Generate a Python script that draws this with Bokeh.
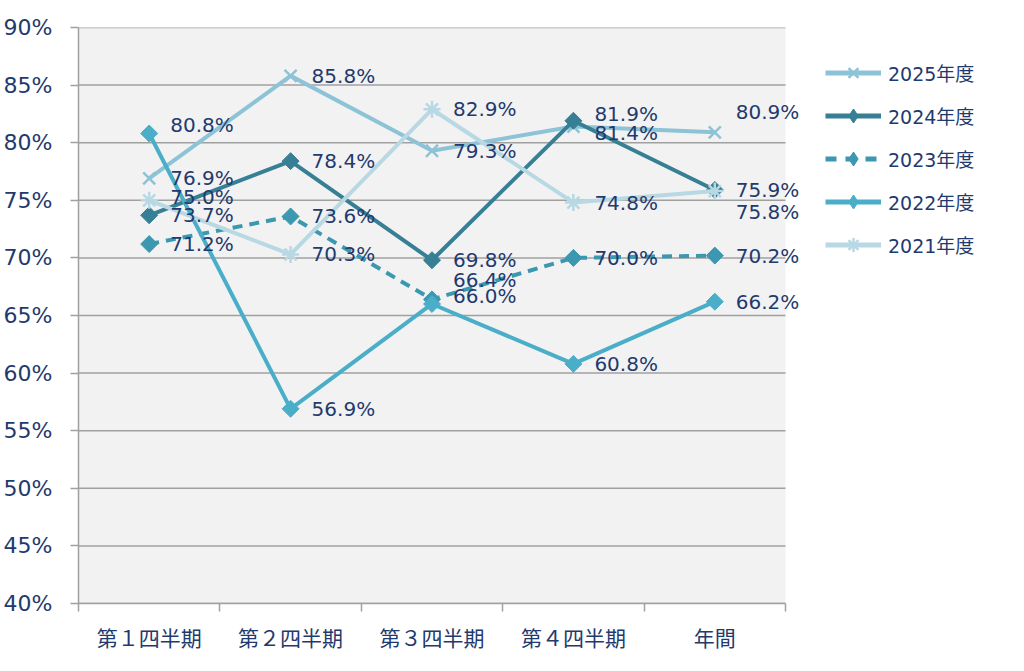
import math
from bokeh.plotting import figure
from bokeh.models import (ColumnDataSource, FixedTicker, PrintfTickFormatter,
                          Legend, LegendItem, BoxAnnotation)
from bokeh.core.properties import value
from bokeh.embed import file_html
from bokeh.resources import INLINE

categories = ["第１四半期", "第２四半期", "第３四半期", "第４四半期", "年間"]
series_names = ["2025年度", "2024年度", "2023年度", "2022年度", "2021年度"]
v2025 = [76.9, 85.8, 79.3, 81.4, 80.9]
v2024 = [73.7, 78.4, 69.8, 81.9, 75.9]
v2023 = [71.2, 73.6, 66.4, 70.0, 70.2]
v2022 = [80.8, 56.9, 66.0, 60.8, 66.2]
v2021 = [75.0, 70.3, 82.9, 74.8, 75.8]
y_ticks = [40, 45, 50, 55, 60, 65, 70, 75, 80, 85, 90]

all_values = [v2025, v2024, v2023, v2022, v2021]

# styles
colors = ["#8dc3d6", "#377f94", "#3b98b0", "#4aaec8", "#b8d8e3"]
markers = ["x", "square", "square", "square", "asterisk"]
legend_markers = ["x", "diamond", "diamond", "diamond", "asterisk"]
angles = [0, math.pi / 4, math.pi / 4, math.pi / 4, 0]
dashes = ["solid", "solid", "10 7", "solid", "solid"]
legend_dashes = ["solid", "solid", "11 9", "solid", "solid"]
msizes = [17, 12, 12, 12, 17]
mlw = [2.5, 1, 1, 1, 2.5]
# label vertical nudges in px (series index, point index) to avoid overlap
nudges = {(3, 0): -8, (2, 2): -19, (3, 2): -8, (1, 3): -7, (0, 3): 6,
          (0, 4): -20, (4, 4): 21, (4, 0): -3}

TEXT = "#1f3a6e"
GRID = "#a0a0a0"
NUMFONT = "'DejaVu Sans', 'Noto Sans CJK JP'"
CJKFONT = "'Noto Sans CJK JP'"

n = len(categories)
FW = 930
PLOT_W = 707
p = figure(frame_width=FW, frame_height=576,
           x_range=(0, n * FW / PLOT_W), y_range=(40, 90),
           output_backend="svg", toolbar_location=None,
           min_border_left=78, min_border_top=27, min_border_bottom=52,
           min_border_right=0)
p.background_fill_color = "white"
p.border_fill_color = "white"
p.outline_line_color = None

# plot-area background limited to the category span
p.add_layout(BoxAnnotation(left=0, right=n, bottom=y_ticks[0], top=y_ticks[-1],
                           fill_color="#f2f2f2", fill_alpha=1,
                           line_color=None, level="underlay"))
# horizontal gridlines limited to the category span
p.segment(x0=[0] * len(y_ticks), x1=[n] * len(y_ticks), y0=y_ticks, y1=y_ticks,
          line_color=GRID, line_width=1.5)

xs = [i + 0.5 for i in range(n)]

items = []
for si, (name, vals) in enumerate(zip(series_names, all_values)):
    src = ColumnDataSource(dict(x=xs, y=vals))
    p.line("x", "y", source=src, line_color=colors[si], line_width=4,
           line_dash=dashes[si])
    p.scatter("x", "y", source=src, marker=markers[si], size=msizes[si],
              angle=angles[si],
              fill_color=colors[si], line_color=colors[si],
              line_width=mlw[si])
    # legend-only swatches (hidden in the plot)
    lln = p.line("x", "y", source=src, line_color=colors[si], line_width=5,
                 line_dash=legend_dashes[si], visible=False)
    lsc = p.scatter("x", "y", source=src, marker=legend_markers[si],
                    fill_color=colors[si], line_color=colors[si],
                    line_width=mlw[si], visible=False)
    items.append(LegendItem(label=name, renderers=[lln, lsc]))

for si, vals in enumerate(all_values):
    src = ColumnDataSource(dict(
        x=xs, y=vals,
        lbl=[f"{v:.1f}%" for v in vals],
        yo=[nudges.get((si, i), 0) for i in range(len(vals))]))
    p.text("x", "y", text="lbl", source=src, x_offset=21, y_offset="yo",
           text_baseline="middle", text_align="left",
           text_font=value(NUMFONT), text_font_size="20px", text_color=TEXT)

# axes
p.yaxis.ticker = FixedTicker(ticks=y_ticks)
p.yaxis.formatter = PrintfTickFormatter(format="%d%%")
p.yaxis.major_label_text_font = NUMFONT
p.yaxis.major_label_text_font_size = "22px"
p.yaxis.major_label_text_color = TEXT
p.yaxis.axis_line_color = GRID
p.yaxis.axis_line_width = 1.5
p.yaxis.major_tick_line_color = GRID
p.yaxis.major_tick_line_width = 1.5
p.yaxis.major_tick_out = 8
p.yaxis.major_tick_in = 0
p.yaxis.minor_tick_line_color = None
p.yaxis.major_label_standoff = 18

p.xaxis.ticker = FixedTicker(ticks=xs, minor_ticks=list(range(n + 1)))
p.xaxis.bounds = (0, n)
p.xaxis.major_label_overrides = {x: c for x, c in zip(xs, categories)}
p.xaxis.major_label_text_font = CJKFONT
p.xaxis.major_label_text_font_size = "21px"
p.xaxis.major_label_text_color = TEXT
p.xaxis.axis_line_color = GRID
p.xaxis.axis_line_width = 1.5
p.xaxis.major_tick_line_color = None
p.xaxis.minor_tick_line_color = GRID
p.xaxis.minor_tick_line_width = 1.5
p.xaxis.minor_tick_out = 8
p.xaxis.minor_tick_in = 0
p.xaxis.major_label_standoff = 10

p.xgrid.grid_line_color = None
p.ygrid.grid_line_color = None

legend = Legend(items=items, location=(747, 341), orientation="vertical")
legend.click_policy = "none"
legend.inactive_fill_alpha = 0
legend.glyph_width = 56
legend.glyph_height = 35
legend.label_height = 35
legend.spacing = 8
legend.padding = 0
legend.margin = 0
legend.label_standoff = 7
legend.label_text_font = NUMFONT
legend.label_text_font_size = "19px"
legend.label_text_color = TEXT
legend.border_line_color = None
legend.background_fill_alpha = 0
p.add_layout(legend, "center")

open("out.html", "w").write(file_html(p, INLINE))
